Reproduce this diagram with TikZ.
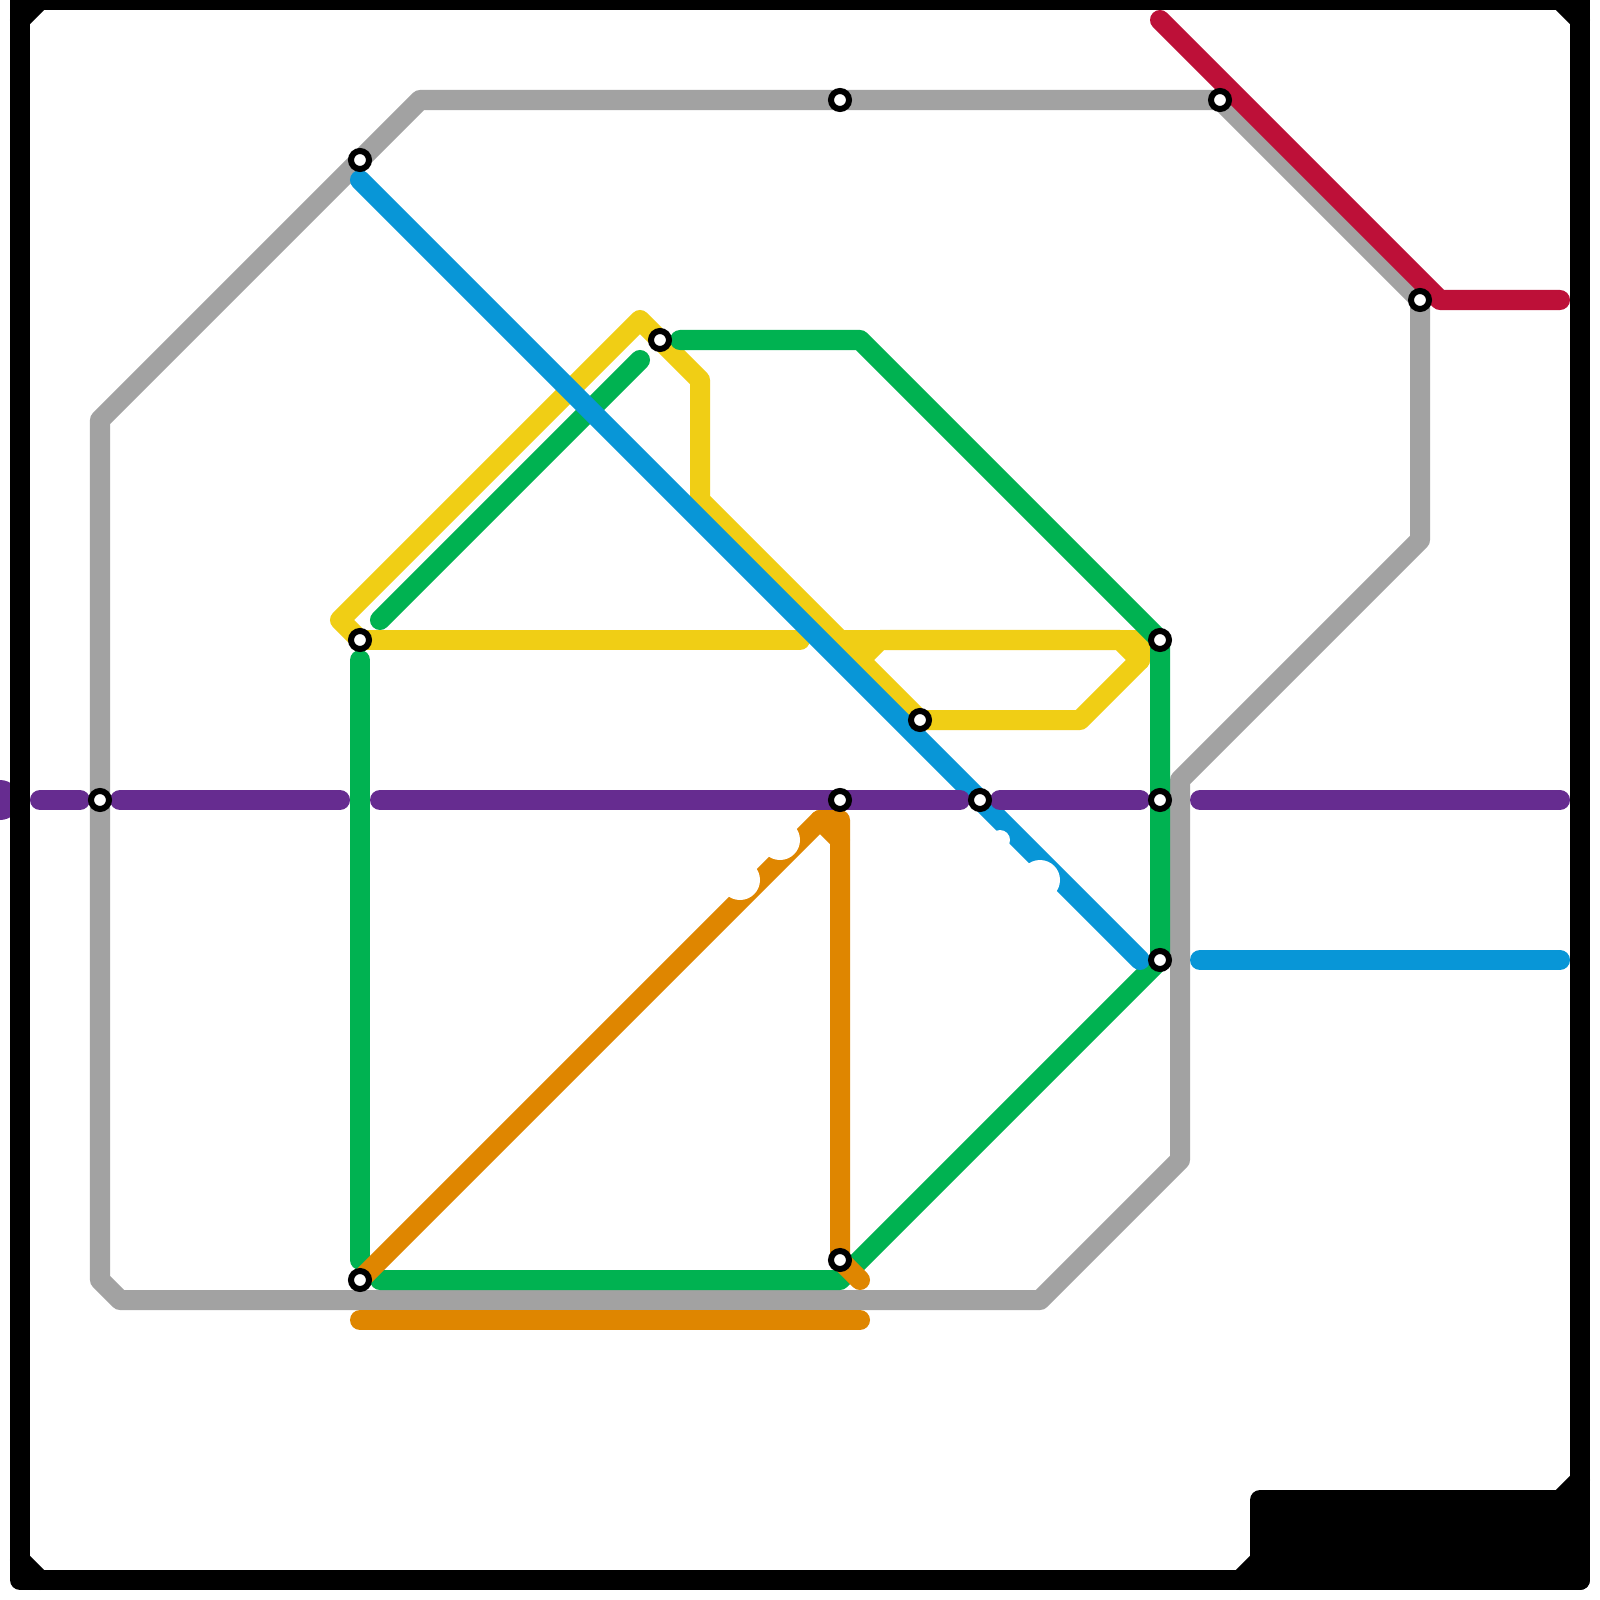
\documentclass[tikz,border=0pt]{standalone}
\definecolor{cgray}{HTML}{A2A2A2}
\definecolor{cyellow}{HTML}{F0CE15}
\definecolor{cgreen}{HTML}{00B251}
\definecolor{corange}{HTML}{DF8600}
\definecolor{cblue}{HTML}{0896D7}
\definecolor{cpurple}{HTML}{662C90}
\definecolor{cred}{HTML}{BD1038}
\begin{document}
\begin{tikzpicture}[x=0.01cm,y=-0.01cm]
\tikzset{metro/.style={line width=0.2cm, line cap=round, line join=round},
  stationdot/.style={circle, draw=black, fill=white, line width=0.06cm, minimum size=0.18cm, inner sep=0pt, outer sep=0pt},
  framing/.style={line width=0.2cm, draw=black, line cap=round, line join=round}}
\useasboundingbox (0,0) rectangle (1600,1600);
\fill[white] (0,0) rectangle (1600,1600);
\begin{scope}
\clip (0,0) rectangle (1600,1600);
% named station positions
\coordinate (A) at (360,160);
\coordinate (B) at (840,100);
\coordinate (C) at (1220,100);
\coordinate (D) at (1420,300);
\coordinate (E) at (660,340);
\coordinate (F) at (360,640);
\coordinate (G) at (1160,640);
\coordinate (H) at (920,720);
\coordinate (I) at (100,800);
\coordinate (J) at (840,800);
\coordinate (K) at (980,800);
\coordinate (L) at (1160,800);
\coordinate (M) at (1160,960);
\coordinate (N) at (840,1260);
\coordinate (O) at (360,1280);
% grey
\draw[metro,cgray] (A) -- (420,100) -- (B) -- (C) -- (D) -- (1420,540) -- (1180,780) -- (1180,1160) -- (1040,1300) -- (120,1300) -- (100,1280) -- (I) -- (100,420) -- cycle;
% yellow
\draw[metro,cyellow] (F) -- (340,620) -- (640,320) -- (E) -- (700,380) -- (700,500) -- (840,640) -- (H) -- (1080,720) -- (1140,660) -- (1120,640) -- (880,640) -- (860,660);
\draw[metro,cyellow] (840,640) -- (1140,640) -- (1140,660);
\draw[metro,cyellow] (F) -- (800,640);
% green
\draw[metro,cgreen] (680,340) -- (860,340) -- (G) -- (L) -- (M) -- (840,1280) -- (380,1280);
\draw[metro,cgreen] (380,620) -- (640,360);
\draw[metro,cgreen] (360,660) -- (360,1260);
% orange
\draw[metro,corange] (O) -- (820,820) -- (840,820) -- (N) -- (860,1280);
\draw[metro,corange] (820,820) -- (840,840);
\draw[metro,corange] (360,1320) -- (860,1320);
% blue
\draw[metro,cblue] (360,180) -- (K) -- (1140,960);
\draw[metro,cblue] (1200,960) -- (1560,960);
% white notches
\fill[white] (740,880) circle[radius=20];
\fill[white] (780,840) circle[radius=20];
\fill[white] (1040,880) circle[radius=20];
\fill[white] (1000,840) circle[radius=10];
% purple
\fill[cpurple] (0,800) circle[radius=20];
\draw[metro,cpurple] (40,800) -- (80,800);
\draw[metro,cpurple] (120,800) -- (340,800);
\draw[metro,cpurple] (380,800) -- (J) -- (960,800);
\draw[metro,cpurple] (1000,800) -- (1140,800);
\draw[metro,cpurple] (1200,800) -- (1560,800);
% red
\draw[metro,cred] (1160,20) -- (1440,300) -- (1560,300);
% frame
\draw[framing] (20,0) -- (1580,0) -- (1580,1580) -- (20,1580) -- cycle;
\draw[framing] (20,20) -- (40,0);
\draw[framing] (1560,0) -- (1580,20);
\draw[framing] (20,1560) -- (40,1580);
\draw[framing] (1240,1580) -- (1260,1560);
\draw[framing] (1580,1480) -- (1560,1500);
\draw[framing,fill=black] (1260,1500) rectangle (1580,1580);
% stations
\foreach \s in {A,B,C,D,E,F,G,H,I,J,K,L,M,N,O}{
  \node[stationdot] (st\s) at (\s) {};
}
\end{scope}
\end{tikzpicture}
\end{document}
